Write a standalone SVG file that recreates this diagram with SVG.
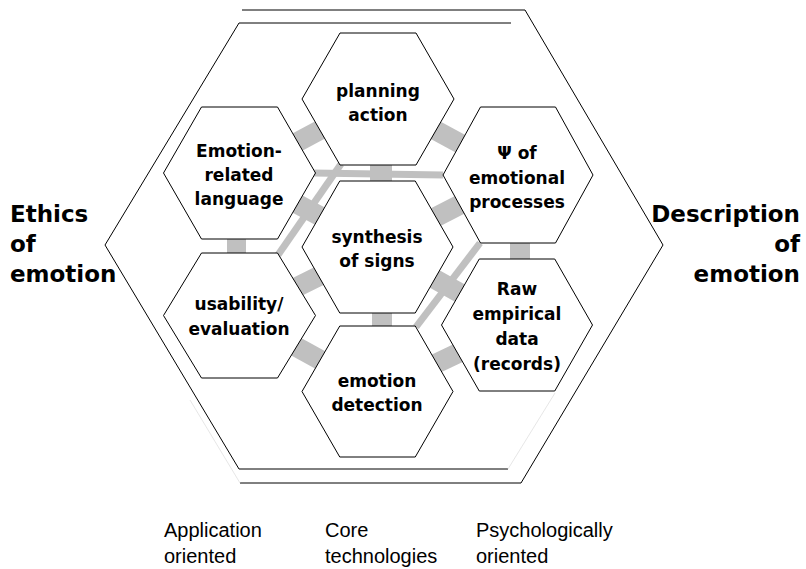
<svg xmlns="http://www.w3.org/2000/svg" width="806" height="569" viewBox="0 0 806 569">
<style>
.frame{fill:none;stroke:#000;stroke-width:1}
.faint{fill:none;stroke:#e0e0e0;stroke-width:0.8}
.bar{stroke:#c0c0c0;stroke-width:20;fill:none}
.vbar{fill:#c0c0c0}
.link{stroke:#c0c0c0;stroke-width:7;fill:none}
.hex{fill:#fff;stroke:#000;stroke-width:1}
.lbl{font-family:"DejaVu Sans",sans-serif;font-weight:bold;font-size:17px;text-anchor:middle;fill:#000}
.big{font-family:"DejaVu Sans",sans-serif;font-weight:bold;font-size:23px;fill:#000}
.cap{font-family:"Liberation Sans",Arial,sans-serif;font-size:20px;fill:#000}
</style>
<rect width="806" height="569" fill="#fff"/>
<g id="frames">
<polyline class="frame" points="511,23 239,23 105,245 239,469 508,469"/>
<polyline class="faint" points="508,469 555,393"/>
<polyline class="frame" points="242,10 525,10 663,245 521,483 240,483"/>
<polyline class="faint" points="240,483 190,400"/>
</g>
<g id="connectors">
<line class="link" x1="313" y1="173" x2="443" y2="175"/>
<line class="link" x1="341" y1="164" x2="278" y2="255"/>
<line class="link" x1="480" y1="243" x2="416" y2="327"/>
<line class="bar" x1="378" y1="99" x2="239.5" y2="173"/>
<line class="bar" x1="378" y1="99" x2="518" y2="175"/>
<line class="bar" x1="239.5" y1="173" x2="377.5" y2="247"/>
<line class="bar" x1="239.5" y1="315.5" x2="377.5" y2="247"/>
<line class="bar" x1="239.5" y1="315.5" x2="377.5" y2="391.5"/>
<line class="bar" x1="518" y1="175" x2="377.5" y2="247"/>
<line class="bar" x1="517" y1="325" x2="377.5" y2="247"/>
<line class="bar" x1="517" y1="325" x2="377.5" y2="391.5"/>
<rect class="vbar" x="227" y="235" width="19" height="22"/>
<rect class="vbar" x="370" y="160" width="22" height="26"/>
<rect class="vbar" x="372" y="308" width="20" height="23"/>
<rect class="vbar" x="510" y="238" width="20" height="26"/>
</g>
<g id="planning">
<polygon class="hex" points="302,99 340,33 416,33 454,99 416,165 340,165"/>
<text class="lbl" x="378" y="97">planning</text>
<text class="lbl" x="378" y="121">action</text>
</g>
<g id="emotion-language">
<polygon class="hex" points="163.5,173 201.5,107 277.5,107 315.5,173 277.5,239 201.5,239"/>
<text class="lbl" x="239" y="157">Emotion-</text>
<text class="lbl" x="239" y="181">related</text>
<text class="lbl" x="239" y="205">language</text>
</g>
<g id="usability">
<polygon class="hex" points="163.5,315.5 201.5,253 277.5,253 315.5,315.5 277.5,378 201.5,378"/>
<text class="lbl" x="239" y="310">usability/</text>
<text class="lbl" x="239" y="335">evaluation</text>
</g>
<g id="synthesis">
<polygon class="hex" points="302,247 339.75,181 415.25,181 453,247 415.25,313 339.75,313"/>
<text class="lbl" x="377" y="243">synthesis</text>
<text class="lbl" x="377" y="267">of signs</text>
</g>
<g id="detection">
<polygon class="hex" points="302,391.5 339.75,326 415.25,326 453,391.5 415.25,457 339.75,457"/>
<text class="lbl" x="377" y="387">emotion</text>
<text class="lbl" x="377" y="411">detection</text>
</g>
<g id="psi">
<polygon class="hex" points="443,175 480.5,107 555.5,107 593,175 555.5,243 480.5,243"/>
<text class="lbl" x="517" y="159">Ψ of</text>
<text class="lbl" x="517" y="184">emotional</text>
<text class="lbl" x="517" y="208">processes</text>
</g>
<g id="raw">
<polygon class="hex" points="441.5,325 479.25,259 554.75,259 592.5,325 554.75,391 479.25,391"/>
<text class="lbl" x="517" y="295">Raw</text>
<text class="lbl" x="517" y="320">empirical</text>
<text class="lbl" x="517" y="345">data</text>
<text class="lbl" x="517" y="370">(records)</text>
</g>
<g id="ethics">
<text class="big" x="10" y="222">Ethics</text>
<text class="big" x="10" y="252">of</text>
<text class="big" x="10" y="282">emotion</text>
</g>
<g id="description">
<text class="big" x="800" y="222" text-anchor="end">Description</text>
<text class="big" x="800" y="252" text-anchor="end">of</text>
<text class="big" x="800" y="282" text-anchor="end">emotion</text>
</g>
<g id="captions">
<text class="cap" x="164" y="537">Application</text>
<text class="cap" x="164" y="563">oriented</text>
<text class="cap" x="325" y="537">Core</text>
<text class="cap" x="325" y="563">technologies</text>
<text class="cap" x="476" y="537">Psychologically</text>
<text class="cap" x="476" y="563">oriented</text>
</g>
</svg>
